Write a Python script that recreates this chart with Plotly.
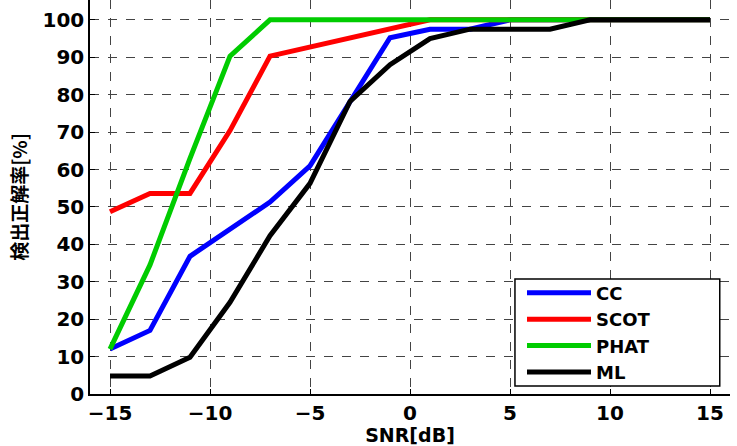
import plotly.graph_objects as go

snr = [-15, -13, -11, -9, -7, -5, -3, -1, 1, 3, 5, 7, 9, 11, 13, 15]
cc = [12, 17, 36.8, 44, 51.3, 61, 78, 95.2, 97.5, 97.5, 100, 100, 100, 100, 100, 100]
scot = [48.7, 53.6, 53.6, 70.4, 90.3, 92.7, 95.1, 97.5, 100, 100, 100, 100, 100, 100, 100, 100]
phat = [12, 34.5, 63, 90.3, 100, 100, 100, 100, 100, 100, 100, 100, 100, 100, 100, 100]
ml = [4.8, 4.8, 9.8, 24.5, 42.3, 56.3, 78.2, 88, 95, 97.5, 97.5, 97.5, 100, 100, 100, 100]

series = [("CC", cc, "#0000ff"), ("SCOT", scot, "#ff0000"),
          ("PHAT", phat, "#00cc00"), ("ML", ml, "#000000")]

xticks = [-15, -10, -5, 0, 5, 10, 15]
xticklabels = ["−15", "−10", "−5", "0", "5", "10", "15"]
yticks = list(range(0, 101, 10))

FONT = "DejaVu Sans"
CJK = "Noto Sans CJK JP"

fig = go.Figure()
for name, vals, col in series:
    fig.add_trace(go.Scatter(x=snr, y=vals, mode="lines", name=name,
                             line=dict(color=col, width=5)))

# legend frame (wider box, as in the reference)
fig.add_shape(type="rect", xref="paper", yref="paper",
              x0=0.664, x1=0.984, y0=0.02, y1=0.292,
              fillcolor="white", line=dict(color="black", width=1.5),
              layer="above")

fig.update_layout(
    width=737, height=446,
    margin=dict(l=90, r=7, t=0, b=52),
    paper_bgcolor="white", plot_bgcolor="white",
    font=dict(family=FONT, size=18, color="black"),
    showlegend=True,
    legend=dict(x=0.675, y=0.156, xanchor="left", yanchor="middle",
                bgcolor="rgba(0,0,0,0)", borderwidth=0,
                font=dict(family=FONT, size=18, color="black", weight="bold"),
                tracegroupgap=0, itemwidth=64),
)
fig.update_xaxes(range=[-16, 16], tickvals=xticks, ticktext=xticklabels,
                 showline=True, linecolor="black", linewidth=1.5,
                 showgrid=True, gridcolor="#444444", griddash="dash", gridwidth=1,
                 ticks="inside", ticklen=5, tickcolor="black", zeroline=False,
                 tickfont=dict(family=FONT, size=20, weight="bold"),
                 title=dict(text="SNR[dB]", standoff=4,
                            font=dict(family=FONT, size=19, weight="bold")))
fig.update_yaxes(range=[0, 105.3], tickvals=yticks,
                 showline=True, linecolor="black", linewidth=1.5,
                 showgrid=True, gridcolor="#444444", griddash="dash", gridwidth=1,
                 ticks="inside", ticklen=5, tickcolor="black", zeroline=False,
                 tickfont=dict(family=FONT, size=20, weight="bold"),
                 title=dict(text="検出正解率[%]", standoff=10,
                            font=dict(family=CJK, size=19, weight="bold")))

fig.write_html("out.html")
